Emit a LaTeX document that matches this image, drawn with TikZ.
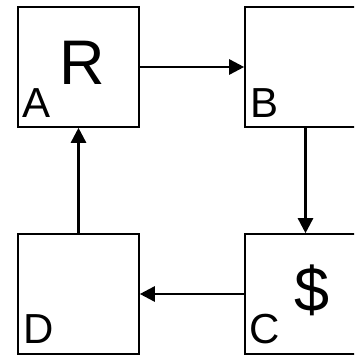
\documentclass[tikz,border=0pt]{standalone}
\usepackage{fontspec}
\setmainfont{Liberation Sans}
\usetikzlibrary{arrows.meta}
\begin{document}
\begin{tikzpicture}[x=1pt,y=-1pt,
  blk/.style={draw, line width=2.6pt, minimum width=121pt, minimum height=120pt, inner sep=0pt, fill=white},
  lbl/.style={inner sep=0pt, anchor=base west, font=\fontsize{42}{42}\selectfont},
  big/.style={inner sep=0pt, anchor=base, font=\fontsize{63}{63}\selectfont},
  conn/.style={line width=2.6pt, -{Triangle[length=15pt,width=15pt]}, shorten >=-0.5pt}]
\path[use as bounding box, clip] (0,0) rectangle (354,355);
\node[blk] (A) at (78.5,67) {};
\node[blk] (B) at (305.5,67) {};
\node[blk] (C) at (305.5,294) {};
\node[blk] (D) at (78.5,294) {};
\node[big] (r) at (82,85) {R};
\node[big] (s) at (312,311) {\$};
\node[lbl] (la) at (22,118) {A};
\node[lbl] (lb) at (250,118) {B};
\node[lbl] (lc) at (249,343) {C};
\node[lbl] (ld) at (23,343) {D};
\draw[conn] (A) -- (B);
\draw[conn] (B) -- (C);
\draw[conn] (C) -- (D);
\draw[conn] (D) -- (A);
\end{tikzpicture}
\end{document}
